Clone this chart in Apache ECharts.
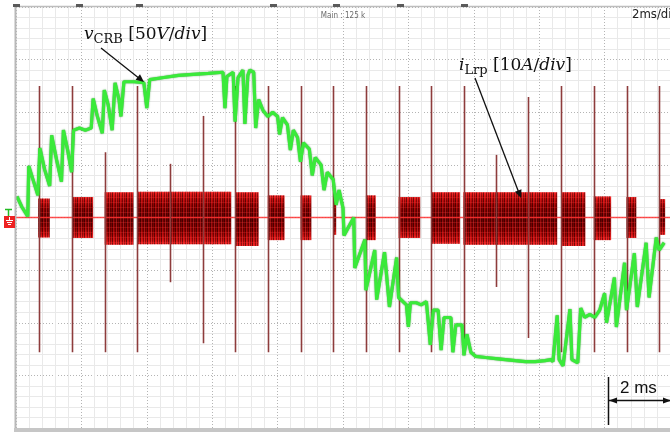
<!DOCTYPE html>
<html><head><meta charset="utf-8">
<script src="https://cdn.jsdelivr.net/npm/echarts@6.0.0/dist/echarts.min.js"></script>
<style>html,body{margin:0;padding:0;background:#fff}#c{width:670px;height:432px}</style>
</head><body><div id="c"></div>
<script>
// ---- v_CRB trace (time in ms, voltage in V) ----
const timeMs = [0.03,0.18,0.36,0.39,0.52,0.67,0.73,0.88,1.03,1.09,1.24,1.39,1.45,1.58,1.70,1.76,1.94,2.12,2.30,2.36,2.48,2.64,2.70,2.82,2.94,3.03,3.15,3.21,3.30,3.61,3.91,4.00,4.09,4.52,4.97,5.42,5.88,6.33,
 6.39,6.45,6.64,6.70,6.79,6.94,7.00,7.09,7.15,7.27,7.33,7.42,7.55,7.70,7.85,8.00,8.06,8.15,8.30,8.39,8.48,8.61,8.70,8.79,8.97,9.06,9.15,9.33,9.42,9.52,9.70,9.79,9.88,10.00,
 10.03,10.33,10.36,10.67,10.70,10.97,11.03,11.27,11.42,11.64,11.70,11.94,12.00,12.06,12.24,12.39,12.55,12.61,12.67,12.76,12.91,13.00,13.09,13.30,13.36,13.45,13.64,13.70,13.79,13.91,14.06,14.36,14.67,14.97,15.27,15.58,15.88,16.18,16.36,
 16.42,16.55,16.61,16.73,16.94,17.00,17.18,17.27,17.39,17.55,17.70,17.85,18.00,18.06,18.30,18.36,18.61,18.67,18.91,19.00,19.27,19.36,19.58,19.67,19.82];
const vCRB = [20,10,1,49,36,21,66,45,30,78,55,34,83,64,43,83,85,83,85,113,97,80,121,107,83,128,112,96,129,129,128,104,131,133,135,136,137,138,
 104,134,138,91,133,140,89,135,140,138,85,112,102,96,100,96,79,95,88,64,83,76,53,71,65,40,57,50,26,43,36,12,26,9,
 -17,0,-48,-21,-69,-31,-78,-33,-85,-38,-76,-83,-104,-81,-81,-83,-80,-80,-121,-88,-88,-126,-95,-95,-128,-102,-102,-131,-111,-128,-132,-133,-134,-135,-136,-137,-137,-136,-135,
 -137,-93,-135,-141,-87,-135,-138,-86,-95,-92,-95,-88,-72,-100,-57,-104,-43,-88,-34,-85,-24,-76,-19,-31,-24];

// ---- i_Lrp resonant bursts (ms, A) ----
const burstStart = [0.68,1.72,2.71,3.71,6.70,7.70,8.70,9.70,10.70,11.70,12.70,13.68,16.67,17.67,18.67,19.67];
const burstEnd   = [1.03,2.36,3.59,6.58,7.42,8.21,9.03,9.79,11.00,12.36,13.58,16.55,17.41,18.20,18.97,19.85];
const burstHigh  = [3.6,3.9,4.8,4.9,4.8,4.2,4.2,3.3,4.2,3.9,4.8,4.8,4.8,4.0,3.9,3.5];
const burstLow   = [-3.8,-3.9,-5.2,-5.1,-5.4,-4.3,-4.3,-3.3,-4.3,-3.9,-5.0,-5.2,-5.4,-4.3,-3.9,-3.3];

// ---- i_Lrp switching spikes (ms, A) ----
const spikeTime   = [0.71,1.71,2.71,3.71,4.71,5.71,6.71,7.71,8.71,9.70,10.70,11.70,12.70,13.69,14.67,15.67,16.67,17.67,18.67,19.67];
const spikeTop    = [25,25,12.4,25,10.2,19.3,25,25,25,25,25,25,25,25,11.9,22.9,25,25,25,25];
const spikeBottom = [-25.6,-25.6,-25.6,-25.6,-12.3,-23.9,-25.6,-25.6,-25.6,-25.6,-25.6,-25.6,-25.6,-25.6,-13.2,-22.9,-25.6,-25.6,-25.6,-25.6];

// axis divisions
const timeDiv = 2;     // ms/div
const voltDiv = 50;    // V/div
const ampDiv = 10;     // A/div

const chart = echarts.init(document.getElementById('c'), null, {renderer:'canvas'});

const burstGrad = new echarts.graphic.LinearGradient(0,0,0,1,[
  {offset:0,color:'#f02424'},{offset:0.08,color:'#d01010'},{offset:0.25,color:'#900000'},
  {offset:0.5,color:'#640000'},{offset:0.75,color:'#900000'},{offset:0.92,color:'#d01010'},{offset:1,color:'#f02424'}]);
const pat = document.createElement('canvas'); pat.width = 7; pat.height = 5;
(function(){const c = pat.getContext('2d');
  const cols = ['rgba(30,0,0,0.55)','rgba(255,50,50,0.25)','rgba(0,0,0,0)','rgba(50,0,0,0.45)','rgba(255,70,70,0.3)','rgba(20,0,0,0.35)','rgba(0,0,0,0)'];
  cols.forEach((col,i)=>{c.fillStyle=col; c.fillRect(i,0,1,5);});
  c.fillStyle='rgba(255,60,60,0.25)'; c.fillRect(0,2,7,1);})();

const gridLine = {show:true, lineStyle:{color:'#b4b4b4', type:[1,2], width:1}};
const minorLine = {show:true, lineStyle:{color:'#e9e9e9', width:1}};

const g = [];
// frame
g.push({type:'line', shape:{x1:15.5,y1:6,x2:15.5,y2:430}, style:{stroke:'#b8b8b8', lineWidth:2}, z:100});
g.push({type:'line', shape:{x1:14,y1:6.5,x2:670,y2:6.5}, style:{stroke:'#bdbdbd', lineWidth:1.5}, z:100});
g.push({type:'rect', shape:{x:14,y:428,width:656,height:4}, style:{fill:'#c6c6c6'}, z:100});
[13,76,136,270,333,397,461].forEach(x=>g.push({type:'rect', shape:{x:x,y:4,width:7,height:3}, style:{fill:'#5a5a5a'}, z:101}));
// header texts
g.push({type:'text', style:{x:343,y:16,text:'Main : 125 k', font:'8px "Liberation Sans Narrow","DejaVu Sans Condensed",sans-serif', fill:'#6a6a6a', align:'center', verticalAlign:'middle'}, z:101});
g.push({type:'text', style:{x:632,y:15,text:'2ms/div', font:'13px "Liberation Sans Narrow","DejaVu Sans Condensed",sans-serif', fill:'#222', align:'left', verticalAlign:'middle'}, z:101});
// channel markers
g.push({type:'line', shape:{x1:5,y1:209.5,x2:12,y2:209.5}, style:{stroke:'#22bb22', lineWidth:1.5}, z:101});
g.push({type:'line', shape:{x1:8.5,y1:209,x2:8.5,y2:216}, style:{stroke:'#22bb22', lineWidth:1.5}, z:101});
g.push({type:'rect', shape:{x:4,y:216,width:11,height:12}, style:{fill:'#ee2222'}, z:101});
g.push({type:'line', shape:{x1:9.5,y1:217,x2:9.5,y2:220}, style:{stroke:'#fff', lineWidth:1}, z:102});
g.push({type:'line', shape:{x1:6,y1:220.5,x2:13,y2:220.5}, style:{stroke:'#fff', lineWidth:1}, z:102});
g.push({type:'line', shape:{x1:7,y1:222.5,x2:12,y2:222.5}, style:{stroke:'#fff', lineWidth:1}, z:102});
g.push({type:'line', shape:{x1:8,y1:224.5,x2:11,y2:224.5}, style:{stroke:'#fff', lineWidth:1}, z:102});
// labels
const serif = '"DejaVu Serif","Liberation Serif",serif';
const rich = {
  m:{font:'italic 17px '+serif, fill:'#111', lineHeight:22},
  n:{font:'17px '+serif, fill:'#111', lineHeight:22},
  s:{font:'13px '+serif, fill:'#111', lineHeight:14, verticalAlign:'bottom'}
};
g.push({type:'text', style:{x:84,y:24,text:'{m|v}{s|CRB}{n| [50}{m|V}{n|/}{m|div}{n|]}', rich:rich, verticalAlign:'top'}, z:101});
g.push({type:'text', style:{x:459,y:55,text:'{m|i}{s|Lrp}{n| [10}{m|A}{n|/}{m|div}{n|]}', rich:rich, verticalAlign:'top'}, z:101});
// arrows
g.push({type:'line', shape:{x1:101,y1:48,x2:140,y2:79}, style:{stroke:'#111', lineWidth:1.3}, z:101});
g.push({type:'polygon', shape:{points:[[144,82],[135.6,79.7],[140,74.3]]}, style:{fill:'#111'}, z:101});
g.push({type:'line', shape:{x1:475,y1:78,x2:519,y2:193}, style:{stroke:'#111', lineWidth:1.3}, z:101});
g.push({type:'polygon', shape:{points:[[521,198],[514.9,191.7],[521.5,189.3]]}, style:{fill:'#111'}, z:101});
// 2 ms scale bar
g.push({type:'line', shape:{x1:608.5,y1:377,x2:608.5,y2:425}, style:{stroke:'#111', lineWidth:1.5}, z:101});
g.push({type:'line', shape:{x1:609,y1:400.5,x2:670,y2:400.5}, style:{stroke:'#111', lineWidth:1.5}, z:101});
g.push({type:'polygon', shape:{points:[[609,400.5],[617,397.5],[617,403.5]]}, style:{fill:'#111'}, z:101});
g.push({type:'polygon', shape:{points:[[671,400.5],[663,397.5],[663,403.5]]}, style:{fill:'#111'}, z:101});
g.push({type:'text', style:{x:620,y:397,text:'2 ms', font:'17px "Liberation Sans",Arial,sans-serif', fill:'#111', align:'left', verticalAlign:'bottom'}, z:101});

chart.setOption({
  animation:false,
  backgroundColor:'#fff',
  grid:{left:16, top:7, width:660, height:421, containLabel:false},
  xAxis:{type:'value', min:0, max:10*timeDiv, interval:timeDiv, axisLine:{show:false}, axisTick:{show:false}, axisLabel:{show:false},
    splitLine:gridLine, minorTick:{show:false, splitNumber:5}, minorSplitLine:minorLine},
  yAxis:[
    {type:'value', min:-4*voltDiv, max:4*voltDiv, interval:voltDiv, axisLine:{show:false}, axisTick:{show:false}, axisLabel:{show:false},
      splitLine:gridLine, minorTick:{show:false, splitNumber:5}, minorSplitLine:minorLine},
    {type:'value', min:-4*ampDiv, max:4*ampDiv, interval:ampDiv, show:false, splitLine:{show:false}}
  ],
  series:[
    {type:'custom', name:'bursts', xAxisIndex:0, yAxisIndex:1, z:2,
      data: burstStart.map((s,i)=>[s, burstEnd[i], burstHigh[i], burstLow[i]]),
      encode:{x:[0,1], y:[2,3]},
      renderItem:(params, api)=>{
        const p1 = api.coord([api.value(0), api.value(2)]);
        const p2 = api.coord([api.value(1), api.value(3)]);
        const shape = {x:p1[0], y:p1[1], width:p2[0]-p1[0], height:p2[1]-p1[1]};
        return {type:'group', children:[
          {type:'rect', shape:shape, style:{fill:burstGrad}},
          {type:'rect', shape:shape, style:{fill:{image:pat, repeat:'repeat'}}}
        ]};
      }},
    {type:'line', name:'i0', xAxisIndex:0, yAxisIndex:1, z:3, data:[[0,0],[10*timeDiv,0]], showSymbol:false,
      lineStyle:{color:'#ff3030', width:1.3, opacity:0.85}, silent:true},
    {type:'custom', name:'spikes', xAxisIndex:0, yAxisIndex:1, z:4,
      data: spikeTime.map((t,i)=>[t, spikeTop[i], spikeBottom[i]]),
      encode:{x:0, y:[1,2]},
      renderItem:(params, api)=>{
        const a = api.coord([api.value(0), api.value(1)]);
        const b = api.coord([api.value(0), api.value(2)]);
        const x = Math.round(a[0])+0.5;
        return {type:'line', shape:{x1:x, y1:a[1], x2:x, y2:b[1]}, style:{stroke:'#8e3c3c', lineWidth:1.6}};
      }},
    {type:'line', name:'vCRB', xAxisIndex:0, yAxisIndex:0, z:5, data: timeMs.map((t,i)=>[t, vCRB[i]]), showSymbol:false,
      lineStyle:{color:'#3aea3a', width:3.2, shadowColor:'rgba(0,110,0,0.7)', shadowBlur:1.5}, silent:true}
  ],
  graphic: g
});
</script></body></html>
